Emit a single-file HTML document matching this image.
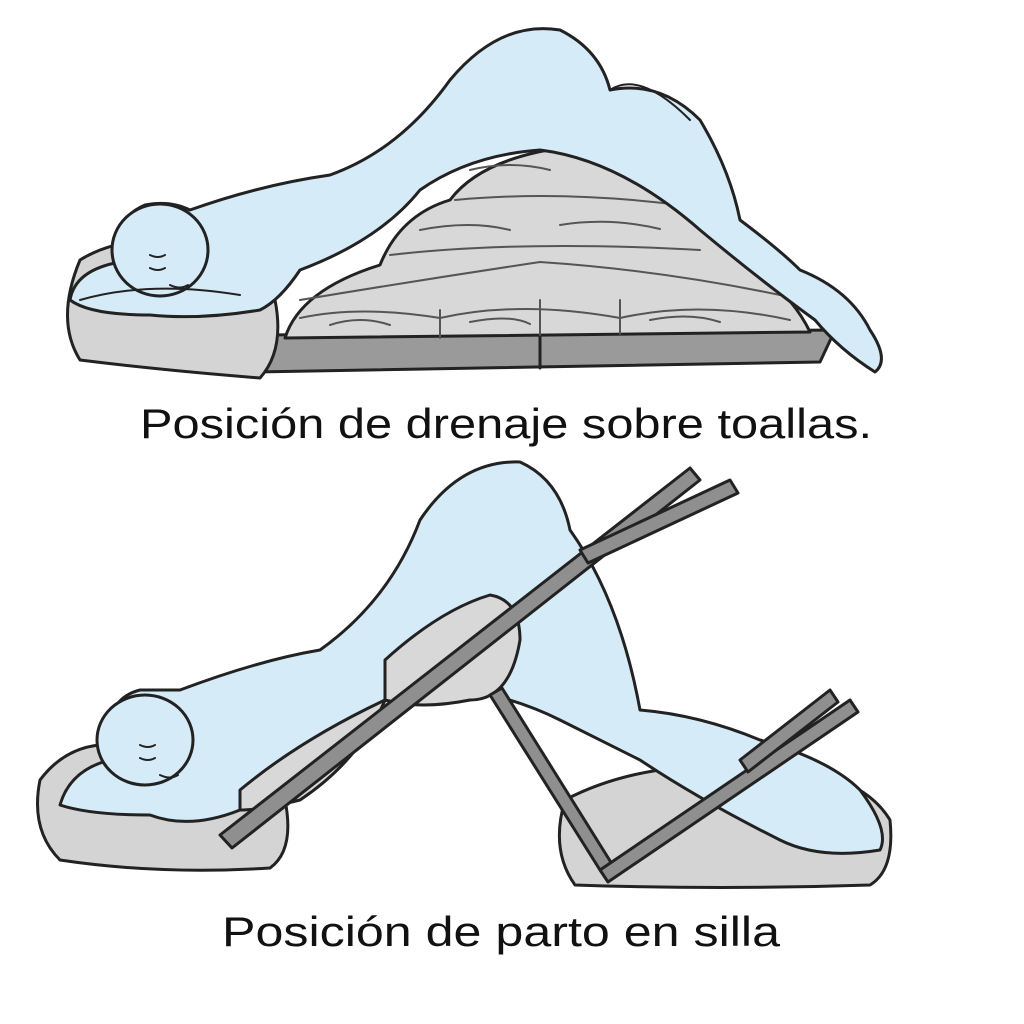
<!DOCTYPE html>
<html><head><meta charset="utf-8"><style>
html,body{margin:0;padding:0;background:#fff;}
svg{display:block;}
text{font-family:"Liberation Sans",sans-serif;fill:#111;}
</style></head><body>
<svg width="1024" height="1024" viewBox="0 0 1024 1024" xmlns="http://www.w3.org/2000/svg">
<g stroke="#222" stroke-width="3" stroke-linejoin="round" stroke-linecap="round">
<!-- TOP: board -->
<path d="M262 335 L835 330 L820 362 L255 372 Z" fill="#9a9a9a"/>
<line x1="540" y1="335" x2="540" y2="368"/>
<!-- towels mound -->
<path d="M285 338 Q300 290 380 265 Q400 215 450 200 Q480 160 560 148 Q640 155 680 200 Q720 220 740 260 Q790 290 810 332 Z" fill="#d8d8d8"/>
<g fill="none" stroke="#555" stroke-width="2">
<path d="M300 300 Q420 280 540 262 Q660 270 780 295"/>
<path d="M390 255 Q520 240 700 250"/>
<path d="M455 200 Q560 190 680 205"/>
<path d="M300 318 Q360 305 440 318 Q520 300 620 318 Q700 300 790 320"/>
<path d="M440 310 L440 338 M540 300 L540 335 M620 300 L620 334"/>
<path d="M330 325 q30 -10 60 0 M470 322 q40 -8 60 2 M650 320 q40 -8 70 2 M420 230 q50 -10 90 0 M560 225 q50 -8 100 4 M470 170 q40 -10 80 0"/>
</g>
<!-- pillow -->
<path d="M80 260 Q120 235 190 240 Q260 250 275 300 Q285 350 260 378 Q160 370 80 360 Q55 320 80 260 Z" fill="#d4d4d4"/>
<!-- body -->
<path d="M190 210 Q260 185 330 175 Q400 150 450 80 Q500 20 560 30 Q600 50 610 90 Q660 80 700 120 Q730 170 740 220 Q780 250 800 270 Q850 290 870 330 Q890 360 875 372 Q840 350 815 320 Q760 280 700 230 Q620 160 540 150 Q470 155 420 190 Q380 240 300 270 Q280 300 260 310 Q200 320 150 315 Q90 315 70 300 Q75 270 120 262 Q110 220 145 205 Q170 200 190 210 Z" fill="#d6ebf8"/>
<path d="M610 90 Q640 70 690 120" fill="none" stroke-width="2"/>
<ellipse cx="160" cy="250" rx="48" ry="46" fill="#d6ebf8"/>
<path d="M80 300 Q150 280 240 295" fill="none" stroke-width="2"/>
<path d="M150 255 q8 4 15 0 M150 268 q8 4 15 0 M170 285 q10 5 18 0" fill="none" stroke-width="2"/>
<!-- BOTTOM: pillows -->
<path d="M40 780 Q70 740 120 745 Q240 770 285 800 Q295 850 270 868 Q160 875 60 860 Q30 830 40 780 Z" fill="#d4d4d4"/>
<path d="M565 800 Q640 760 760 765 Q860 770 890 820 Q895 870 870 885 Q720 890 575 885 Q550 850 565 800 Z" fill="#d4d4d4"/>
<!-- body bottom -->
<path d="M180 690 Q260 660 320 650 Q390 600 420 520 Q460 460 520 462 Q560 480 570 530 Q620 600 640 710 Q700 715 760 740 Q830 760 860 790 Q890 830 880 850 Q820 860 780 840 Q700 800 640 760 Q600 740 560 720 Q520 700 470 690 Q400 700 350 740 Q290 790 240 810 Q190 830 150 815 Q90 815 60 805 Q70 770 110 760 Q100 700 140 690 Z" fill="#d6ebf8"/>
<ellipse cx="145" cy="740" rx="48" ry="45" fill="#d6ebf8"/>
<path d="M140 745 q8 4 15 0 M140 758 q8 4 15 0 M160 775 q10 5 18 0" fill="none" stroke-width="2"/>
<!-- knee towel -->
<path d="M385 660 Q440 610 490 595 Q520 600 520 640 Q510 700 470 700 Q420 710 385 700 Z" fill="#d8d8d8"/>
<path d="M240 790 Q300 740 385 700 Q360 760 300 800 Q260 810 240 810 Z" fill="#d8d8d8"/>
<!-- chair bars -->
<path d="M220 835 L690 468 L700 480 L232 848 Z" fill="#8f8f8f"/>
<path d="M580 550 L730 480 L738 493 L588 563 Z" fill="#8f8f8f"/>
<path d="M490 695 L600 870 L612 864 L502 688 Z" fill="#8f8f8f"/>
<path d="M600 870 L850 700 L858 712 L608 882 Z" fill="#8f8f8f"/>
<path d="M740 760 L830 690 L838 702 L748 772 Z" fill="#8f8f8f"/>
</g>
<text x="140" y="438" font-size="42" textLength="732" lengthAdjust="spacingAndGlyphs">Posición de drenaje sobre toallas.</text>
<text x="222" y="946" font-size="42" textLength="558" lengthAdjust="spacingAndGlyphs">Posición de parto en silla</text>
</svg>
</body></html>
